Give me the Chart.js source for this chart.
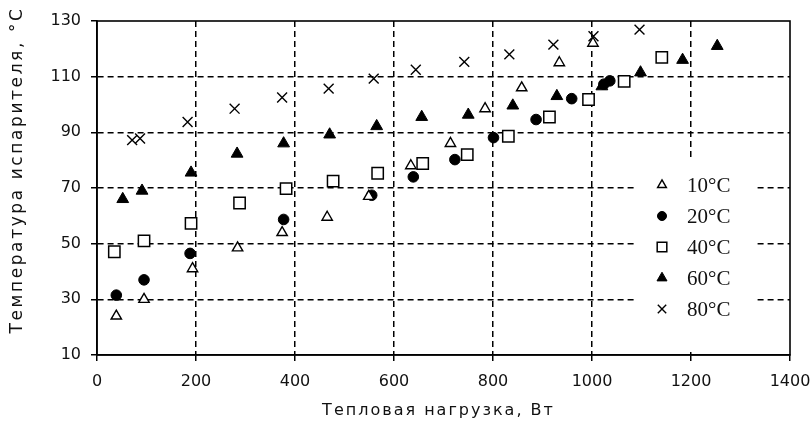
<!DOCTYPE html>
<html>
<head>
<meta charset="utf-8">
<script src="https://cdn.jsdelivr.net/npm/chart.js@4/dist/chart.umd.min.js"></script>
<style>
html,body{margin:0;padding:0;background:#fff;}
#wrap{width:811px;height:424px;position:relative;}
</style>
</head>
<body>
<div id="wrap"><canvas id="c" width="811" height="424"></canvas></div>
<script>
// ---- data ----
const seriesLabels = ['10°C', '20°C', '40°C', '60°C', '80°C'];
const xTickValues = [0, 200, 400, 600, 800, 1000, 1200, 1400];
const yTickValues = [10, 30, 50, 70, 90, 110, 130];
const xTitle = 'Тепловая нагрузка, Вт';
const yTitle = 'Температура испарителя, °С';

const load10 = [39, 95, 193, 284, 374, 465, 549, 634, 714, 784, 858, 934, 1002];
const temp10 = [24, 30, 41, 48.5, 54, 59.5, 67, 78, 86, 98.5, 106, 115, 122];

const load20 = [39, 95, 188, 377, 555, 639, 723, 801, 887, 959, 1024, 1036];
const temp20 = [31.5, 37, 46.5, 58.7, 67.4, 74, 80.2, 88.1, 94.6, 102.1, 107.3, 108.5];

const load40 = [35, 95, 190, 288, 382, 477, 567, 658, 748, 831, 914, 993, 1065, 1141];
const temp40 = [47.1, 51, 57.3, 64.6, 69.8, 72.5, 75.3, 78.8, 82, 88.6, 95.5, 101.8, 108.3, 116.9];

const load60 = [52, 91, 190, 283, 377, 470, 565, 656, 750, 840, 929, 1020, 1098, 1183, 1253];
const temp60 = [66, 69, 75.5, 82.3, 86, 89.2, 92.2, 95.5, 96.3, 99.6, 103, 106.5, 111.5, 116, 121];

const load80 = [71, 87, 183, 278, 374, 468, 559, 644, 742, 833, 922, 1003, 1096];
const temp80 = [87.2, 87.8, 93.7, 98.5, 102.5, 105.7, 109.3, 112.5, 115.3, 118, 121.5, 124.5, 126.9];

// ---- build ----
const toPts = (xs, ys) => xs.map((x, i) => ({x: x, y: ys[i]}));
const styles = [
  {pointStyle: 'triangle', backgroundColor: '#fff', borderColor: '#000', borderWidth: 1.4, pointRadius: 6},
  {pointStyle: 'circle',   backgroundColor: '#000', borderColor: '#000', borderWidth: 1, pointRadius: 5.3},
  {pointStyle: 'rect',     backgroundColor: '#fff', borderColor: '#000', borderWidth: 1.5, pointRadius: 8},
  {pointStyle: 'triangle', backgroundColor: '#000', borderColor: '#000', borderWidth: 1, pointRadius: 6.8},
  {pointStyle: 'crossRot', backgroundColor: '#000', borderColor: '#000', borderWidth: 1.4, pointRadius: 7}
];
const seriesData = [toPts(load10, temp10), toPts(load20, temp20), toPts(load40, temp40), toPts(load60, temp60), toPts(load80, temp80)];
const datasets = seriesLabels.map((lab, i) => Object.assign({
  label: lab,
  data: seriesData[i],
  showLine: false,
  pointHoverRadius: styles[i].pointRadius
}, styles[i]));

const tickFont = {family: '"DejaVu Sans"', size: 16};

const framePlugin = {
  id: 'frameAndLegend',
  beforeDatasetsDraw(chart) {
    const ctx = chart.ctx, a = chart.chartArea;
    ctx.save();
    ctx.fillStyle = '#fff';
    ctx.fillRect(637, 160, 120, 192);
    ctx.strokeStyle = '#000';
    ctx.lineWidth = 1.6;
    ctx.setLineDash([]);
    ctx.strokeRect(a.left, a.top, a.right - a.left, a.bottom - a.top);
    ctx.restore();
  },
  afterDatasetsDraw(chart) {
    const ctx = chart.ctx;
    ctx.save();
    chart.data.datasets.forEach((ds, i) => {
      const y = 185 + i * 31;
      ctx.fillStyle = ds.backgroundColor;
      ctx.strokeStyle = ds.borderColor;
      ctx.lineWidth = ds.borderWidth;
      ctx.setLineDash([]);
      Chart.helpers.drawPoint(ctx, {pointStyle: ds.pointStyle, radius: ds.pointRadius * 0.85, borderWidth: ds.borderWidth, rotation: 0}, 662, y);
      ctx.fillStyle = '#111';
      ctx.font = '21px "Liberation Serif"';
      ctx.textBaseline = 'middle';
      ctx.textAlign = 'left';
      ctx.fillText(ds.label, 687, y + 1);
    });
    ctx.restore();
  },
  afterDraw(chart) {
    // axis titles (letter-spaced like the reference)
    const ctx = chart.ctx, a = chart.chartArea;
    ctx.save();
    ctx.fillStyle = '#111';
    ctx.textBaseline = 'middle';
    ctx.textAlign = 'center';
    ctx.font = '16px "DejaVu Sans"';
    if ('letterSpacing' in ctx) ctx.letterSpacing = '2px';
    ctx.fillText(xTitle, (a.left + a.right) / 2 - 5, 411);
    ctx.font = '17px "DejaVu Sans"';
    if ('letterSpacing' in ctx) ctx.letterSpacing = '2.6px';
    ctx.translate(18, 170);
    ctx.rotate(-Math.PI / 2);
    ctx.fillText(yTitle, 0, 0);
    ctx.restore();
  }
};

new Chart(document.getElementById('c'), {
  type: 'scatter',
  data: {datasets: datasets},
  plugins: [framePlugin],
  options: {
    responsive: false,
    animation: false,
    devicePixelRatio: 1,
    layout: {padding: {left: 0, right: 21, top: 21, bottom: 0}},
    plugins: {legend: {display: false}, tooltip: {enabled: false}},
    scales: {
      x: {
        type: 'linear',
        min: xTickValues[0],
        max: xTickValues[xTickValues.length - 1],
        afterBuildTicks: s => { s.ticks = xTickValues.map(v => ({value: v})); },
        afterFit: s => { s.height = 69; s.paddingLeft = 0; s.paddingRight = 0; },
        grid: {
          color: c => (c.tick && (c.tick.value === 0 || c.tick.value === 1400)) ? 'rgba(0,0,0,0)' : '#000',
          lineWidth: 1.5,
          tickColor: '#000',
          tickLength: 6,
          tickWidth: 1.5
        },
        border: {display: true, color: '#000', width: 1.6, dash: [6, 4]},
        ticks: {font: tickFont, color: '#111', padding: 11, maxRotation: 0, callback: v => String(v)},
        title: {display: false, text: xTitle}
      },
      y: {
        type: 'linear',
        min: yTickValues[0],
        max: yTickValues[yTickValues.length - 1],
        afterBuildTicks: s => { s.ticks = yTickValues.map(v => ({value: v})); },
        afterFit: s => { s.width = 97; s.paddingTop = 0; s.paddingBottom = 0; },
        grid: {
          color: c => (c.tick && (c.tick.value === 10 || c.tick.value === 130)) ? 'rgba(0,0,0,0)' : '#000',
          lineWidth: 1.5,
          tickColor: '#000',
          tickLength: 6,
          tickWidth: 1.5
        },
        border: {display: true, color: '#000', width: 1.6, dash: [6, 4]},
        ticks: {font: tickFont, color: '#111', padding: 10, callback: v => String(v)},
        title: {display: false, text: yTitle}
      }
    }
  }
});
</script>
</body>
</html>
